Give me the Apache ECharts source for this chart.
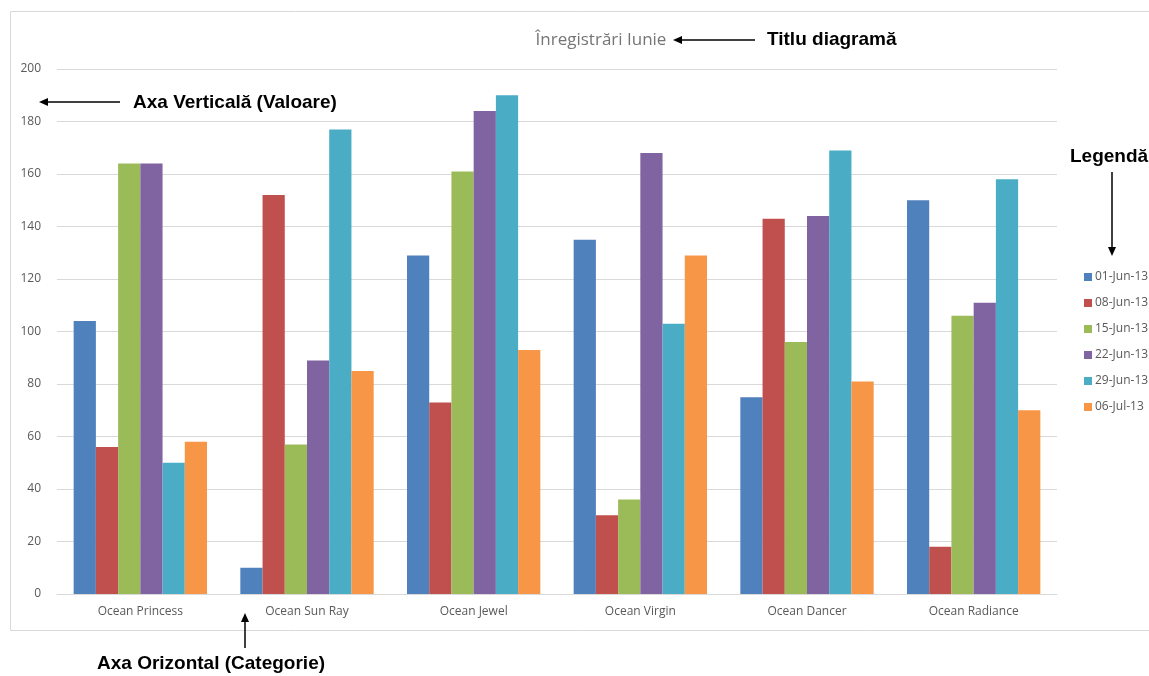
<!DOCTYPE html>
<html>
<head>
<meta charset="utf-8">
<script src="https://cdn.jsdelivr.net/npm/echarts@6/dist/echarts.min.js"></script>
<style>
html,body{margin:0;padding:0;background:#fff;}
#c{width:1149px;height:676px;}
</style>
</head>
<body>
<div id="c"></div>
<script>
const categories = ['Ocean Princess','Ocean Sun Ray','Ocean Jewel','Ocean Virgin','Ocean Dancer','Ocean Radiance'];
const seriesNames = ['01-Jun-13','08-Jun-13','15-Jun-13','22-Jun-13','29-Jun-13','06-Jul-13'];
const s01Jun = [104, 10, 129, 135, 75, 150];
const s08Jun = [56, 152, 73, 30, 143, 18];
const s15Jun = [164, 57, 161, 36, 96, 106];
const s22Jun = [164, 89, 184, 168, 144, 111];
const s29Jun = [50, 177, 190, 103, 169, 158];
const s06Jul = [58, 85, 93, 129, 81, 70];
const yTicks = {min: 0, max: 200, interval: 20};

const colors = ['#4F81BD','#C0504D','#9BBB59','#8064A2','#4BACC6','#F79646'];
const values = [s01Jun, s08Jun, s15Jun, s22Jun, s29Jun, s06Jul];
const labelFont = '"Open Sans", "Noto Sans", sans-serif';
const annFont = '"Liberation Sans", Arial, sans-serif';

function arrow(x1, y1, x2, y2) {
  const dx = x2 - x1, dy = y2 - y1;
  const len = Math.sqrt(dx*dx + dy*dy);
  const ux = dx/len, uy = dy/len;
  const hl = 9, hw = 4;
  const bx = x2 - ux*hl, by = y2 - uy*hl;
  return [
    {type:'line', shape:{x1:x1, y1:y1, x2:bx, y2:by}, style:{stroke:'#000', lineWidth:1.5}},
    {type:'polygon', shape:{points:[[x2,y2],[bx - uy*hw, by + ux*hw],[bx + uy*hw, by - ux*hw]]}, style:{fill:'#000'}}
  ];
}

const chart = echarts.init(document.getElementById('c'));
chart.setOption({
  animation: false,
  color: colors,
  title: {
    text: 'Înregistrări Iunie',
    left: 596, top: 27, textAlign: 'center',
    textStyle: {fontFamily: labelFont, fontSize: 17, fontWeight: 'normal', color: '#757575'}
  },
  legend: {
    orient: 'vertical',
    left: 1079, top: 266,
    itemWidth: 8, itemHeight: 8, itemGap: 14,
    icon: 'rect',
    data: seriesNames,
    textStyle: {fontFamily: labelFont, fontSize: 12, color: '#595959', padding:[0,0,0,-2]}
  },
  grid: {left: 57, right: 92, top: 69, bottom: 82, containLabel: false},
  xAxis: {
    type: 'category',
    data: categories,
    axisLine: {lineStyle: {color: '#d9d9d9'}},
    axisTick: {show: false},
    axisLabel: {fontFamily: labelFont, fontSize: 12, color: '#595959', margin: 12}
  },
  yAxis: {
    type: 'value',
    min: yTicks.min, max: yTicks.max, interval: yTicks.interval,
    axisLine: {show: false},
    axisTick: {show: false},
    splitLine: {lineStyle: {color: '#d9d9d9'}},
    axisLabel: {fontFamily: labelFont, fontSize: 12, color: '#595959', margin: 16}
  },
  series: seriesNames.map((n, i) => ({
    name: n, type: 'bar', data: values[i],
    barGap: '0%', barCategoryGap: '20%'
  })),
  graphic: [
    {type:'rect', z:-1, shape:{x:10.5, y:11.5, width:1200, height:619}, style:{fill:'none', stroke:'#d9d9d9', lineWidth:1}},
    {type:'text', left:767, top:30, style:{text:'Titlu diagramă', font:'bold 19px ' + annFont, fill:'#000'}},
    {type:'text', left:133, top:93, style:{text:'Axa Verticală (Valoare)', font:'bold 19px ' + annFont, fill:'#000'}},
    {type:'text', left:1070, top:147, style:{text:'Legendă', font:'bold 19px ' + annFont, fill:'#000'}},
    {type:'text', left:97, top:654, style:{text:'Axa Orizontal (Categorie)', font:'bold 19px ' + annFont, fill:'#000'}},
    ...arrow(755, 40, 673, 40),
    ...arrow(120, 102, 39, 102),
    ...arrow(1112, 172, 1112, 256),
    ...arrow(245, 648, 245, 613)
  ]
});
</script>
</body>
</html>
